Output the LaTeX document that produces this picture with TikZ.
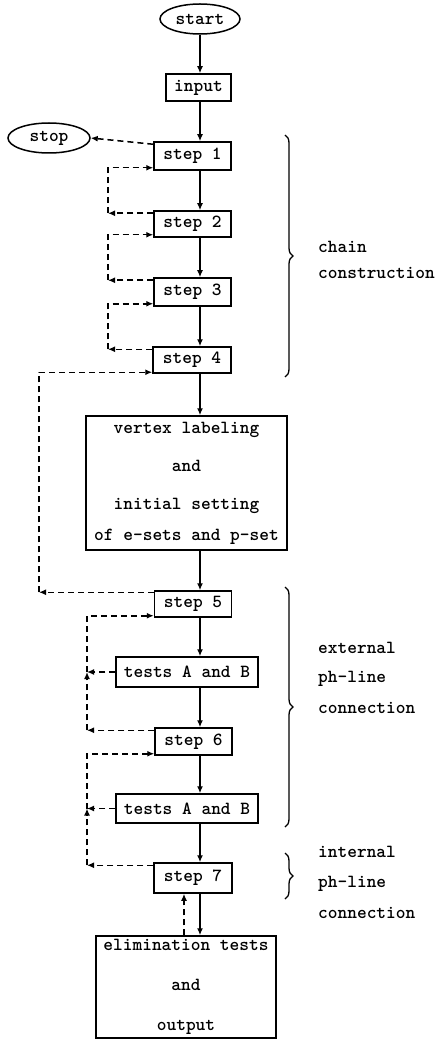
\documentclass[tikz,border=0pt]{standalone}
\usepackage{fontspec}
\setmonofont{lmmono10-regular.otf}[BoldFont=lmmonolt10-bold.otf]
\usetikzlibrary{shapes.geometric, arrows.meta, positioning, decorations.pathreplacing}

\begin{document}
\begin{tikzpicture}[
    % one unit = one pixel of the original chart, y growing downwards
    x=1pt, y=-1pt,
    stepbox/.style={
        rectangle,
        draw,
        line width=1.5pt,
        inner sep=0pt,
        align=center,
        font=\ttfamily\bfseries\fontsize{18.5}{22}\selectfont
    },
    terminal/.style={
        ellipse,
        draw,
        line width=1.5pt,
        inner sep=0pt,
        minimum height=30pt,
        font=\ttfamily\bfseries\fontsize{18.5}{22}\selectfont
    },
    note/.style={
        anchor=base west,
        inner sep=0pt,
        font=\ttfamily\bfseries\fontsize{18.5}{22}\selectfont
    },
    flow/.style={
        -{Latex[length=7pt, width=6pt]},
        line width=1.5pt
    },
    back/.style={
        flow,
        dash pattern=on 6pt off 4pt
    },
    brc/.style={
        decorate,
        decoration={brace, amplitude=8pt},
        line width=1.3pt
    }
]
\useasboundingbox (0,0) rectangle (435,1040);

% --- Nodes ---

\node[terminal, minimum width=80pt] (start) at (200,19) {start};
\node[stepbox, minimum width=65pt, minimum height=27pt] (input) at (198.5,87.5) {input};
\node[terminal, minimum width=82pt] (stop) at (49,138) {stop};

% chain construction
\node[stepbox, minimum width=77pt, minimum height=28pt] (step1) at (192.5,156) {step 1};
\node[stepbox, minimum width=77pt, minimum height=26pt] (step2) at (192.5,224) {step 2};
\node[stepbox, minimum width=77pt, minimum height=28pt] (step3) at (192.5,292) {step 3};
\node[stepbox, minimum width=78pt, minimum height=26pt] (step4) at (192,360) {step 4};

\node[stepbox, minimum width=201pt, minimum height=134pt] (vlab) at (186.5,483)
    {vertex labeling\\[16pt]and\\[16pt]initial setting\\[9pt]of e-sets and p-set};

% external ph-line connection
\node[stepbox, minimum width=77pt, minimum height=26pt] (step5) at (193,604) {step 5};
\node[stepbox, minimum width=142pt, minimum height=30pt] (testsA) at (187,672) {tests A and B};
\node[stepbox, minimum width=77pt, minimum height=27pt] (step6) at (193.5,741.5) {step 6};
\node[stepbox, minimum width=142pt, minimum height=29pt] (testsB) at (187,808.5) {tests A and B};

% internal ph-line connection
\node[stepbox, minimum width=78pt, minimum height=30pt] (step7) at (193,878) {step 7};
\node[stepbox, minimum width=180pt, minimum height=102pt] (elim) at (186,987)
    {elimination tests\\[18pt]and\\[18pt]output};

% rails for the return lines
\coordinate (spine) at (200,0);
\coordinate (rail0) at (39,0);
\coordinate (rail1) at (108,0);
\coordinate (rail2) at (87,0);
\coordinate (rail3) at (184,0);

% --- Connections ---
\foreach \a/\b in {start/input, input/step1, step1/step2, step2/step3, step3/step4,
                   step4/vlab, vlab/step5, step5/testsA, testsA/step6, step6/testsB,
                   testsB/step7, step7/elim}
    \draw[flow] (\a.south -| spine) -- (\b.north -| spine);

\draw[back] ([yshift=-3pt]step1.north west) -- (stop.east);

% loops inside the chain construction
\foreach \a/\b in {step2/step1, step3/step2, step4/step3} {
    \coordinate (out) at ([yshift=-3pt]\a.north west);
    \coordinate (in) at ([yshift=3pt]\b.south west);
    \draw[back] (out) -- (out -| rail1);
    \draw[back] (out -| rail1) |- (in);
}

% step 5 back to step 4
\coordinate (out5) at ([yshift=-2pt]step5.north west);
\draw[back] (out5) -- (out5 -| rail0);
\draw[back] (out5 -| rail0) |- ([yshift=1.5pt]step4.south west);

% step 6 and tests back to step 5, step 7 and tests back to step 6
\foreach \a/\t/\b in {step6/testsA/step5, step7/testsB/step6} {
    \coordinate (out) at ([yshift=-3pt]\a.north west);
    \coordinate (in) at ([yshift=2pt]\b.south west);
    \draw[back] (\t.west) -- (\t.west -| rail2);
    \draw[back] (out) -- (out -| rail2);
    \draw[back] (out -| rail2) -- (\t.west -| rail2);
    \draw[back] (\t.west -| rail2) |- (in);
}

\draw[back] (elim.north -| rail3) -- (step7.south -| rail3);

% --- Braces and their labels ---
\draw[brc] (285,135) -- (285,377);
\draw[brc] (285,587) -- (285,827);
\draw[brc] (285,853) -- (285,899);

\node[note] (chain) at (318,253) {chain};
\node[note] (constr) at (318,279) {construction};
\node[note] (ext) at (318,653) {external};
\node[note] (extph) at (318,682) {ph-line};
\node[note] (extcon) at (318,713) {connection};
\node[note] (int) at (318,857) {internal};
\node[note] (intph) at (318,887) {ph-line};
\node[note] (intcon) at (318,918) {connection};

\end{tikzpicture}
\end{document}
